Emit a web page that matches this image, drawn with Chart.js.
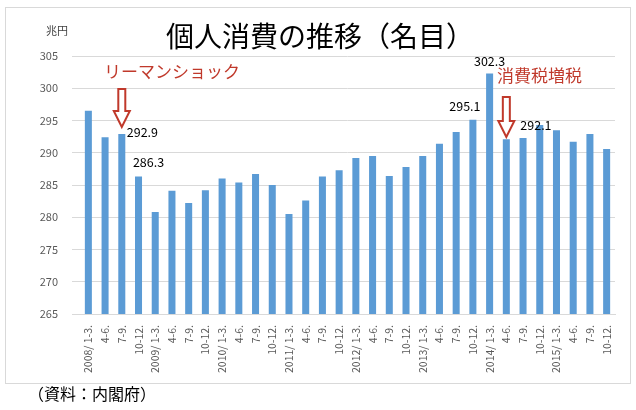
<!DOCTYPE html>
<html><head><meta charset="utf-8">
<script src="https://cdn.jsdelivr.net/npm/chart.js@4"></script>
<style>html,body{margin:0;padding:0;background:#fff}#wrap{position:absolute;left:0;top:0;width:636px;height:410px}</style>
</head><body><div id="wrap"><canvas id="c" width="636" height="410"></canvas></div>
<script>
const categories = ["2008/ 1-3.","4-6.","7-9.","10-12.","2009/ 1-3.","4-6.","7-9.","10-12.","2010/ 1-3.","4-6.","7-9.","10-12.","2011/ 1-3.","4-6.","7-9.","10-12.","2012/ 1-3.","4-6.","7-9.","10-12.","2013/ 1-3.","4-6.","7-9.","10-12.","2014/ 1-3.","4-6.","7-9.","10-12.","2015/ 1-3.","4-6.","7-9.","10-12."];
const consumption = [296.5,292.4,292.9,286.3,280.8,284.1,282.2,284.2,286.0,285.4,286.7,285.0,280.5,282.6,286.3,287.3,289.2,289.5,286.4,287.8,289.5,291.4,293.2,295.1,302.3,292.1,292.3,294.3,293.5,291.7,292.9,290.6];
const yTicks = [265,270,275,280,285,290,295,300,305];
const valueLabels = [{i:2,dx:5,dy:-2,align:"left"},{i:3,dx:10,dy:-14,align:"center"},{i:23,dx:-8,dy:-14,align:"center"},{i:24,dx:0,dy:-12,align:"center"},{i:25,dx:14,dy:-14,align:"left"}];
const FONT = "'Noto Sans CJK JP', 'Noto Sans', sans-serif";
const RED = "#c0392b";

function arrow(ctx,x,y1,y2){
  ctx.save();ctx.strokeStyle=RED;ctx.lineWidth=2;ctx.fillStyle="#fff";
  const w=3.5,hw=8,hy=y2-16;
  ctx.beginPath();ctx.moveTo(x-w,y1);ctx.lineTo(x+w,y1);ctx.lineTo(x+w,hy);ctx.lineTo(x+hw,hy);
  ctx.lineTo(x,y2);ctx.lineTo(x-hw,hy);ctx.lineTo(x-w,hy);ctx.closePath();ctx.fill();ctx.stroke();ctx.restore();
}
const deco = {id:"deco",
  beforeDraw(ch){const c=ch.ctx;c.save();c.fillStyle="#fff";c.fillRect(0,0,636,410);
    c.strokeStyle="#d9d9d9";c.lineWidth=1;c.strokeRect(5.5,7.5,625,376);c.restore();},
  afterDraw(ch){const c=ch.ctx,xs=ch.scales.x,ys=ch.scales.y;c.save();
    c.fillStyle="#000";c.font="28px "+FONT;c.textAlign="center";c.textBaseline="middle";
    c.fillText("個人消費の推移（名目）",320,36);
    c.font="11px "+FONT;c.fillStyle="#404040";c.fillText("兆円",57,31);
    c.font="16px "+FONT;c.textAlign="left";c.fillStyle="#000";c.fillText("（資料：内閣府）",28,394);
    c.font="17px "+FONT;c.fillStyle=RED;c.textAlign="left";
    c.fillText("リーマンショック",104,72);c.fillText("消費税増税",497,76);
    arrow(c,xs.getPixelForValue(2),89,127);arrow(c,xs.getPixelForValue(25),97,137);
    c.font="12.5px "+FONT;c.fillStyle="#000";
    valueLabels.forEach(v=>{c.textAlign=v.align;const x=xs.getPixelForValue(v.i)+v.dx,y=ys.getPixelForValue(consumption[v.i])+v.dy;
      c.fillText(consumption[v.i].toFixed(1),x,y);});
    c.restore();}
};
new Chart(document.getElementById("c"),{type:"bar",
  data:{labels:categories,datasets:[{data:consumption,backgroundColor:"#5b9bd5",barPercentage:0.42,categoryPercentage:1}]},
  options:{responsive:false,animation:false,devicePixelRatio:1,
    layout:{padding:{left:5,right:21,top:56,bottom:0}},
    plugins:{legend:{display:false},tooltip:{enabled:false}},
    scales:{
      x:{grid:{display:false},border:{color:"#d9d9d9"},
        ticks:{autoSkip:false,maxRotation:90,minRotation:90,color:"#595959",font:{size:10.5,family:FONT},padding:3},
        afterFit(s){s.height=96;}},
      y:{min:265,max:305,afterBuildTicks(s){s.ticks=yTicks.map(v=>({value:v}));},
        grid:{color:"#d9d9d9"},border:{display:false},
        ticks:{color:"#595959",font:{size:11,family:FONT},padding:14},
        afterFit(s){s.width=75;}}
    }},
  plugins:[deco]});
</script></body></html>
